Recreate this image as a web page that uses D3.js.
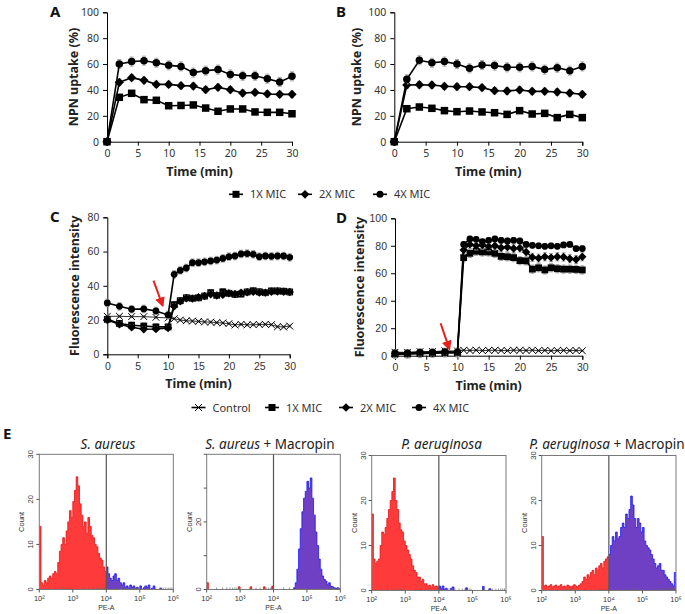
<!DOCTYPE html>
<html>
<head>
<meta charset="utf-8">
<script src="https://d3js.org/d3.v7.min.js"></script>
<style>
  body { margin: 0; background: #fff; }
  svg { display: block; font-family: "Noto Sans", "Open Sans", sans-serif; }
</style>
</head>
<body>
<svg id="fig" width="685" height="614"></svg>
<script>
// ---- data: panels A & B (NPN uptake) ----
var timeAB = [0, 2, 4, 6, 8, 10, 12, 14, 16, 18, 20, 22, 24, 26, 28, 30];
var a1X = [0, 34.3, 37.4, 32.5, 32, 27.8, 28, 28.4, 26, 23.5, 25.3, 25.3, 23, 22.7, 22.7, 21.6];
var a2X = [0, 45.9, 49.5, 47.4, 44.3, 44.3, 43.3, 43, 40.2, 42, 40.2, 37.6, 38.1, 36.9, 36.6, 36.6];
var a4X = [0, 60, 61.9, 62.6, 61, 59, 58.2, 53.4, 54.9, 55.7, 52, 51, 51, 48.7, 46.1, 50.5];
var b1X = [0, 25.5, 26.8, 25.8, 24, 23.2, 23.7, 23, 22.4, 21.1, 24, 21.4, 21.9, 18.6, 21.1, 18.6];
var b2X = [0, 43.8, 44, 43.8, 42.8, 42.5, 42.5, 41.8, 39.4, 39.2, 40, 38.9, 38.9, 38.4, 37.6, 36.6];
var b4X = [0, 48.2, 62.9, 61, 61.9, 60, 56.7, 59.3, 58.8, 57.5, 57.5, 58.2, 55.7, 57.2, 54.9, 58.2];

// ---- data: panels C & D (fluorescence) ----
var timeCD = [0, 2, 4, 6, 8, 10, 11, 12, 13, 14, 15, 16, 17, 18, 19, 20, 21, 22, 23, 24, 25, 26, 27, 28, 29, 30];
var cCtrl = [22.2, 22.2, 22, 22, 21.6, 21.2, 20.8, 20, 19.6, 19.4, 19.2, 18.9, 18.8, 18.5, 18.3, 17.9, 17.1, 17.5, 17.2, 17.3, 17.4, 17.5, 17.3, 16.1, 16, 16.5];
var c1X = [20.4, 18, 17, 16.5, 16, 16, 29, 31.3, 33, 32.7, 33, 34, 36, 34.4, 36.5, 35.6, 35, 35.2, 36.4, 37.1, 36.5, 36, 37, 37, 36.8, 36.4];
var c2X = [20, 17.5, 15.8, 14.6, 14.8, 15.4, 28, 31, 32.7, 32.5, 33.3, 34, 35, 34.3, 34.8, 35.6, 35.2, 36, 36.2, 36.5, 36, 36, 36.5, 36.7, 36.5, 36.4];
var c4X = [30, 28, 26.3, 26.5, 25.3, 23, 46.7, 49, 50.4, 53.5, 53.5, 54, 54.5, 55, 56, 57, 57.4, 58.6, 58.8, 58.4, 57, 57.4, 57.2, 57.4, 57.4, 56.6];
var dCtrl = [2.5, 2.5, 3, 3, 3.5, 3.5, 4, 3.8, 4, 3.7, 3.9, 4, 3.8, 3.7, 4, 3.9, 3.8, 4, 3.7, 3.9, 3.6, 3.8, 3.9, 3.7, 3.8, 3.6];
var d1X = [1, 1.2, 1.5, 1.8, 2, 2, 71.4, 74.5, 76, 75.5, 75.5, 74.5, 72.3, 72, 71.4, 69.2, 69, 63, 64, 62.4, 64, 63.3, 63, 63, 62.8, 62.4];
var d2X = [1.5, 1.5, 2, 2, 2.5, 2.5, 77, 81, 80, 80.5, 79.4, 80, 78.6, 79, 78, 78.4, 75.5, 71.6, 71, 72, 71.4, 72, 71.8, 70.6, 70, 72];
var d4X = [2, 2, 2.5, 2.5, 3, 2.5, 81, 85, 84.7, 83, 84, 85, 84, 83.5, 84, 83.5, 81, 80.3, 80, 79.6, 80, 79.6, 80.6, 81, 78, 78];

// error bar half widths per series (Control, 1X, 2X, 4X)
var errAB = [0, 1.5, 2.5, 3.5];
var errC = [0.6, 1.8, 1.5, 2.2];
var errD = [0.5, 3, 3, 2];

var legendAB = ["1X MIC", "2X MIC", "4X MIC"];
var legendCD = ["Control", "1X MIC", "2X MIC", "4X MIC"];

// ---- data: panel E (flow cytometry histograms, bins of 0.05 decade from 10^2) ----
var histSa = [14, 1.5, 1, 2, 1.5, 2.5, 3, 2.5, 3.5, 4, 3.5, 6, 8.5, 10, 11.5, 10, 13, 15, 17.5, 16,
  19.5, 22, 25, 23, 19, 16.5, 14, 15, 12.5, 16, 14, 12, 11.5, 10, 9.5, 8, 7, 6.5, 5, 4,
  5, 3.5, 2.5, 2, 3, 3.5, 2, 2.5, 1.5, 1, 1.5, 0.5, 0.8, 0.3, 1, 0.5, 0.8, 0.3, 0.5, 0,
  0.8, 0, 0.4, 0.8, 0.5, 1, 0, 0.3, 0.8, 0, 0, 0, 0.3, 0, 0, 0, 0, 0, 0, 0];
var histSaM = [2, 0, 0, 0, 0, 0, 0, 0, 0, 0, 0, 0, 0, 0, 0, 0, 0, 0, 0, 0.8,
  0, 0, 0, 0, 0, 0, 0.8, 0, 0, 0, 0, 0, 0, 0, 0.8, 0, 0, 0, 0, 1,
  0, 0, 0, 0, 0, 0, 0, 0, 0, 0, 0, 0, 0.5, 2, 6, 12, 18, 23, 27, 29,
  32, 30, 33, 27, 22, 17, 13, 9, 6, 4, 3, 2.5, 1.5, 2, 1, 0.8, 0.5, 0.3, 0.5, 0.2];
var histPa = [17, 7, 6, 6.5, 7, 10, 13, 12.5, 14, 16, 18, 20, 22, 25, 20, 18, 15, 13.5, 13, 11,
  10, 9, 8, 7, 5.5, 4.5, 4, 3, 3, 2, 2.5, 1.5, 1.5, 1, 1.2, 0.8, 1.3, 0.8, 1, 0.8,
  1, 0.5, 1, 0.3, 0.5, 0, 0, 0.5, 0.8, 0, 0, 0, 0, 0, 0, 0, 0.6, 0, 0, 0,
  0, 0, 0, 0, 0, 0, 0.9, 0, 0, 0, 0.4, 0, 0, 0, 0, 0, 0, 0, 0, 0];
var histPaM = [12, 1, 1.2, 0.8, 1, 1.3, 0.8, 1, 1.2, 0.8, 1, 1.3, 0.8, 1, 0.8, 1.2, 1, 0.8, 1, 1.3,
  1, 0.8, 1.2, 1.5, 2, 3, 2.5, 3.5, 3, 4, 4.5, 3.5, 5, 4.5, 5.5, 6, 5, 6.5, 7, 7.5,
  8, 10, 12, 11, 13, 11.5, 12, 14, 15, 14, 17, 16, 18, 21, 19, 16, 14, 16, 15, 13,
  14, 11, 10, 9.5, 9, 8, 7, 6, 5, 5.5, 6, 4.5, 4.5, 3.5, 3, 2.5, 2, 1.5, 1, 4];

var svg = d3.select("#fig");

// arrow head for the red arrows
svg.append("defs").append("marker")
    .attr("id", "redhead")
    .attr("viewBox", "0 0 10 10")
    .attr("refX", 8).attr("refY", 5)
    .attr("markerWidth", 5).attr("markerHeight", 5)
    .attr("orient", "auto")
  .append("path")
    .attr("d", "M0,0 L10,5 L0,10 z")
    .attr("fill", "#e8201c");

// marker shapes
function drawMarker(g, kind, cx, cy, s) {
    if (kind == "square") {
        g.append("rect").attr("x", cx - s / 2).attr("y", cy - s / 2)
            .attr("width", s).attr("height", s).attr("fill", "#000");
    } else if (kind == "diamond") {
        var h = s * 0.62;
        g.append("path").attr("d", "M" + cx + "," + (cy - h) + "L" + (cx + h) + "," + cy +
            "L" + cx + "," + (cy + h) + "L" + (cx - h) + "," + cy + "Z").attr("fill", "#000");
    } else if (kind == "circle") {
        g.append("circle").attr("cx", cx).attr("cy", cy).attr("r", s / 2).attr("fill", "#000");
    } else {
        var h2 = s / 2;
        g.append("path").attr("d", "M" + (cx - h2) + "," + (cy - h2) + "L" + (cx + h2) + "," + (cy + h2) +
            "M" + (cx - h2) + "," + (cy + h2) + "L" + (cx + h2) + "," + (cy - h2))
            .attr("stroke", "#000").attr("stroke-width", 1).attr("fill", "none");
    }
}

function linePanel(o) {
    var x = d3.scaleLinear().domain([0, 30]).range([o.left, o.right]);
    var y = d3.scaleLinear().domain([0, o.ymax]).range([o.bottom, o.top]);
    var g = svg.append("g");

    // axes
    var ax = g.append("g").attr("transform", "translate(0," + o.bottom + ")")
        .call(d3.axisBottom(x).tickValues([0, 5, 10, 15, 20, 25, 30]).tickSize(4).tickPadding(4));
    var ay = g.append("g").attr("transform", "translate(" + o.left + ",0)")
        .call(d3.axisLeft(y).ticks(o.ymax / 20).tickSize(4).tickPadding(4));
    [ax, ay].forEach(function(a) {
        a.selectAll("path, line").attr("stroke", "#000").attr("stroke-width", 1);
        a.selectAll("text").attr("font-size", 10.5).attr("fill", "#333")
            .attr("font-family", o.tickFont);
    });

    // series
    var line = d3.line().x(function(d) { return x(d[0]); }).y(function(d) { return y(d[1]); });
    o.series.forEach(function(s, si) {
        var pts = o.time.map(function(t, i) { return [t, s.values[i]]; });
        var e = o.err[s.idx];
        if (e > 0) {
            var eb = g.append("g").attr("stroke", "#a8a8a8").attr("stroke-width", 1);
            pts.forEach(function(p) {
                if (p[1] == 0) return;
                eb.append("line").attr("x1", x(p[0])).attr("x2", x(p[0]))
                    .attr("y1", y(p[1] - e)).attr("y2", y(p[1] + e));
                eb.append("line").attr("x1", x(p[0]) - 2).attr("x2", x(p[0]) + 2)
                    .attr("y1", y(p[1] + e)).attr("y2", y(p[1] + e));
                eb.append("line").attr("x1", x(p[0]) - 2).attr("x2", x(p[0]) + 2)
                    .attr("y1", y(p[1] - e)).attr("y2", y(p[1] - e));
            });
        }
        g.append("path").attr("d", line(pts)).attr("fill", "none")
            .attr("stroke", s.kind == "cross" ? "#333" : "#000")
            .attr("stroke-width", s.kind == "cross" ? 1 : 1.6);
        pts.forEach(function(p) { drawMarker(g, s.kind, x(p[0]), y(p[1]), o.msize); });
    });

    // labels
    g.append("text").attr("x", o.letterX).attr("y", o.top + 5).text(o.letter)
        .attr("font-size", 15).attr("font-weight", "bold").attr("fill", "#111");
    g.append("text").attr("transform", "translate(" + o.ylabX + "," + ((o.top + o.bottom) / 2) + ") rotate(-90)")
        .attr("text-anchor", "middle").attr("font-size", 12.5).attr("font-weight", "bold")
        .attr("fill", "#222").text(o.ylabel);
    g.append("text").attr("x", (o.left + o.right) / 2).attr("y", o.bottom + 34)
        .attr("text-anchor", "middle").attr("font-size", 12.5).attr("font-weight", "bold")
        .attr("fill", "#222").text("Time (min)");

    if (o.arrow) {
        g.append("line")
            .attr("x1", x(o.arrow[0])).attr("y1", y(o.arrow[1]))
            .attr("x2", x(o.arrow[2])).attr("y2", y(o.arrow[3]))
            .attr("stroke", "#e8201c").attr("stroke-width", 2)
            .attr("marker-end", "url(#redhead)");
    }
}

var kinds = ["cross", "square", "diamond", "circle"];

linePanel({ letter: "A", letterX: 50, left: 107, right: 292, top: 12.3, bottom: 141.7, ymax: 100,
    time: timeAB, err: errAB, msize: 7.5, ylabX: 78, ylabel: "NPN uptake (%)", tickFont: "Noto Sans",
    series: [{ values: a1X, kind: "square", idx: 1 }, { values: a2X, kind: "diamond", idx: 2 },
             { values: a4X, kind: "circle", idx: 3 }] });
linePanel({ letter: "B", letterX: 336, left: 394.3, right: 582.3, top: 12.3, bottom: 141.7, ymax: 100,
    time: timeAB, err: errAB, msize: 7.5, ylabX: 361, ylabel: "NPN uptake (%)", tickFont: "Noto Sans",
    series: [{ values: b1X, kind: "square", idx: 1 }, { values: b2X, kind: "diamond", idx: 2 },
             { values: b4X, kind: "circle", idx: 3 }] });
linePanel({ letter: "C", letterX: 50, left: 107.3, right: 289.7, top: 217.3, bottom: 354.3, ymax: 80,
    time: timeCD, err: errC, msize: 6.8, ylabX: 79, ylabel: "Fluorescence intensity", tickFont: "Liberation Sans",
    arrow: [7.6, 43, 9.1, 28.5],
    series: [{ values: cCtrl, kind: "cross", idx: 0 }, { values: c1X, kind: "square", idx: 1 },
             { values: c2X, kind: "diamond", idx: 2 }, { values: c4X, kind: "circle", idx: 3 }] });
linePanel({ letter: "D", letterX: 336, left: 395, right: 582.3, top: 218.3, bottom: 355.7, ymax: 100,
    time: timeCD, err: errD, msize: 6.8, ylabX: 364, ylabel: "Fluorescence intensity", tickFont: "Liberation Sans",
    arrow: [7.3, 23.6, 8.7, 5],
    series: [{ values: dCtrl, kind: "cross", idx: 0 }, { values: d1X, kind: "square", idx: 1 },
             { values: d2X, kind: "diamond", idx: 2 }, { values: d4X, kind: "circle", idx: 3 }] });

// legends
function legend(names, kindsUsed, xs, yc) {
    var g = svg.append("g");
    names.forEach(function(n, i) {
        var x0 = xs[i];
        g.append("line").attr("x1", x0).attr("x2", x0 + 14).attr("y1", yc).attr("y2", yc)
            .attr("stroke", "#000").attr("stroke-width", 1.6);
        drawMarker(g, kindsUsed[i], x0 + 7, yc, 7);
        g.append("text").attr("x", x0 + 21).attr("y", yc + 4).attr("font-size", 11)
            .attr("fill", "#333").text(n);
    });
}
legend(legendAB, ["square", "diamond", "circle"], [229, 298, 373], 194.3);
legend(legendCD, kinds, [191.5, 265, 339, 412], 407.5);

// ---- panel E ----
svg.append("text").attr("x", 3).attr("y", 439).text("E")
    .attr("font-size", 15).attr("font-weight", "bold").attr("fill", "#111");

function histPanel(o) {
    var x = d3.scaleLog().domain([1e2, 1e6]).range([o.left, o.right]);
    var y = d3.scaleLinear().domain([0, o.ymax]).range([o.bottom, o.top]);
    var g = svg.append("g");

    var pts = o.counts.map(function(c, i) { return [Math.pow(10, 2 + 0.05 * i), c]; });
    var gateIdx = 40;
    var red = pts.slice(0, gateIdx + 1).map(function(p, i) { return i == gateIdx ? [p[0], pts[gateIdx - 1][1]] : p; });
    var blue = pts.slice(gateIdx).concat([[1e6, pts[pts.length - 1][1]]]);
    var area = d3.area().curve(d3.curveStepAfter)
        .x(function(d) { return x(d[0]); }).y0(y(0)).y1(function(d) { return y(Math.min(d[1], o.ymax)); });
    var edge = d3.line().curve(d3.curveStepAfter)
        .x(function(d) { return x(d[0]); }).y(function(d) { return y(Math.min(d[1], o.ymax)); });

    g.append("path").attr("d", area(red)).attr("fill", "#ff3a3a");
    g.append("path").attr("d", edge(red)).attr("fill", "none").attr("stroke", "#e41414").attr("stroke-width", 0.8);
    g.append("path").attr("d", area(blue)).attr("fill", "#7040c4");
    g.append("path").attr("d", edge(blue)).attr("fill", "none").attr("stroke", "#1818ff").attr("stroke-width", 0.8);

    // frame and gate
    g.append("rect").attr("x", o.left).attr("y", o.top).attr("width", o.right - o.left)
        .attr("height", o.bottom - o.top).attr("fill", "none").attr("stroke", "#7a7a7a").attr("stroke-width", 1);
    g.append("line").attr("x1", x(1e4)).attr("x2", x(1e4)).attr("y1", o.top).attr("y2", o.bottom)
        .attr("stroke", "#555").attr("stroke-width", 1.2);

    // x axis: decades and minor ticks
    var decades = [1e2, 1e3, 1e4, 1e5, 1e6];
    var supers = ["²", "³", "⁴", "⁵", "⁶"];
    decades.forEach(function(d, i) {
        g.append("line").attr("x1", x(d)).attr("x2", x(d)).attr("y1", o.bottom).attr("y2", o.bottom + 3)
            .attr("stroke", "#555");
        g.append("text").attr("x", x(d)).attr("y", o.bottom + 11).attr("text-anchor", "middle")
            .attr("font-size", 7.5).attr("fill", "#333").attr("font-family", "Liberation Sans").text("10" + supers[i]);
        if (i < 4) {
            for (var k = 2; k < 10; k++) {
                g.append("line").attr("x1", x(d * k)).attr("x2", x(d * k))
                    .attr("y1", o.bottom - 2).attr("y2", o.bottom).attr("stroke", "#666").attr("stroke-width", 0.7);
            }
        }
    });
    g.append("text").attr("x", (o.left + o.right) / 2).attr("y", o.bottom + 20).attr("text-anchor", "middle")
        .attr("font-size", 7).attr("fill", "#333").attr("font-family", "Liberation Sans").text("PE-A");

    // y axis
    d3.range(0, o.ymax + 1, 10).forEach(function(v) {
        g.append("line").attr("x1", o.left - 3).attr("x2", o.left).attr("y1", y(v)).attr("y2", y(v))
            .attr("stroke", "#555");
    });
    o.yLabels.forEach(function(v) {
        g.append("text").attr("transform", "translate(" + (o.left - 6) + "," + y(v) + ") rotate(-90)")
            .attr("text-anchor", "middle").attr("font-size", 7.5).attr("fill", "#333")
            .attr("font-family", "Liberation Sans").text(v);
    });
    g.append("text").attr("transform", "translate(" + (o.left - 15) + "," + ((o.top + o.bottom) / 2) + ") rotate(-90)")
        .attr("text-anchor", "middle").attr("font-size", 7.5).attr("fill", "#333")
        .attr("font-family", "Liberation Sans").text("Count");

    // title
    var t = g.append("text").attr("x", o.titleX).attr("y", 449).attr("text-anchor", "middle")
        .attr("font-size", 13.5).attr("fill", "#222");
    t.append("tspan").attr("font-style", "italic").text(o.species);
    if (o.treated) t.append("tspan").text(" + Macropin");
}

histPanel({ left: 39.3, right: 173.3, top: 454.3, bottom: 589.5, ymax: 30, counts: histSa,
    yLabels: [0, 10, 20, 30], species: "S. aureus", treated: false, titleX: 108 });
histPanel({ left: 206.7, right: 340.3, top: 454.3, bottom: 589.5, ymax: 40, counts: histSaM,
    yLabels: [0, 20], species: "S. aureus", treated: true, titleX: 270 });
histPanel({ left: 371.7, right: 506, top: 455.5, bottom: 590.5, ymax: 30, counts: histPa,
    yLabels: [0, 10, 20, 30], species: "P. aeruginosa", treated: false, titleX: 441.5 });
histPanel({ left: 541.7, right: 676, top: 455.5, bottom: 590.5, ymax: 30, counts: histPaM,
    yLabels: [0, 10, 20, 30], species: "P. aeruginosa", treated: true, titleX: 607 });
</script>
</body>
</html>
